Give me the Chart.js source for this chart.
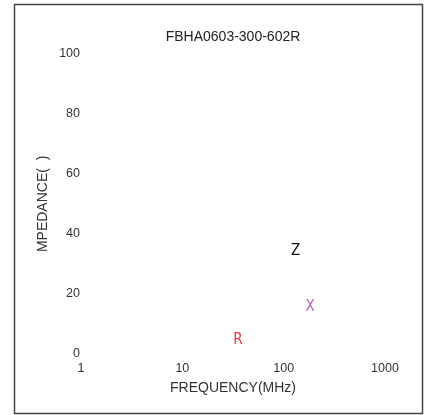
<!DOCTYPE html>
<html>
<head>
<meta charset="utf-8">
<script src="https://cdn.jsdelivr.net/npm/chart.js@4/dist/chart.umd.min.js"></script>
<style>
html,body{margin:0;padding:0;background:#fff;}
#wrap{position:relative;width:425px;height:415px;}
</style>
</head>
<body>
<div id="wrap"><canvas id="c" width="425" height="415"></canvas></div>
<script>
const chartTitle = 'FBHA0603-300-602R';
const xTitle = 'FREQUENCY(MHz)';
const yTitle = 'MPEDANCE(  )';
const xTicks = [1, 10, 100, 1000];
const yTicks = [0, 20, 40, 60, 80, 100];
const curveNames = ['Z', 'X', 'R'];
const labelFreq = [131, 182, 35.4];
const labelImp = [34.2, 15.6, 4.7];
const curveColors = ['#111111', '#b860b8', '#e83a3a'];

const datasets = curveNames.map((n, i) => ({
  label: n,
  data: [{x: labelFreq[i], y: labelImp[i]}],
  pointRadius: 0,
  showLine: false,
  color: curveColors[i]
}));

const textPlugin = {
  id: 'curveLabels',
  afterDatasetsDraw(chart) {
    const ctx = chart.ctx;
    ctx.save();
    ctx.font = '15px "Liberation Sans Narrow", "DejaVu Sans Condensed", sans-serif';
    ctx.textAlign = 'center';
    ctx.textBaseline = 'middle';
    chart.data.datasets.forEach((ds, i) => {
      const meta = chart.getDatasetMeta(i);
      meta.data.forEach(pt => {
        ctx.fillStyle = ds.color;
        ctx.fillText(ds.label, pt.x, pt.y);
      });
    });
    ctx.restore();
  }
};

const borderPlugin = {
  id: 'frame',
  afterDraw(chart) {
    const ctx = chart.ctx;
    ctx.save();
    ctx.strokeStyle = '#444';
    ctx.lineWidth = 1.5;
    ctx.strokeRect(14.5, 4.5, 408, 409);
    ctx.restore();
  }
};

new Chart(document.getElementById('c'), {
  type: 'scatter',
  data: { datasets },
  options: {
    responsive: false,
    animation: false,
    layout: { padding: { left: 30, right: 40, top: 22, bottom: 14 } },
    plugins: {
      legend: { display: false },
      tooltip: { enabled: false },
      title: {
        display: true,
        fullSize: false,
        text: chartTitle,
        color: '#222',
        font: { family: '"Liberation Sans", Arial, sans-serif', size: 14, weight: 'normal' },
        padding: { top: 7, bottom: 8 }
      }
    },
    scales: {
      x: {
        type: 'logarithmic',
        min: 1, max: 1000,
        border: { display: false },
        grid: { display: false, drawTicks: false },
        afterBuildTicks(scale) { scale.ticks = xTicks.map(v => ({ value: v })); },
        afterFit(scale) { scale.height = 47; },
        ticks: {
          color: '#333',
          padding: 7,
          maxRotation: 0,
          font: { family: '"Liberation Sans", Arial, sans-serif', size: 12.5 },
          callback: v => String(v)
        },
        title: {
          display: true, text: xTitle, color: '#333',
          font: { family: '"Liberation Sans", Arial, sans-serif', size: 14 },
          padding: { top: 0, bottom: 4.6 }
        }
      },
      y: {
        min: 0, max: 100,
        border: { display: false },
        grid: { display: false, drawTicks: false },
        afterBuildTicks(scale) { scale.ticks = yTicks.map(v => ({ value: v })); },
        afterFit(scale) { scale.width = 51; },
        ticks: {
          color: '#333',
          padding: 1,
          font: { family: '"Liberation Sans", Arial, sans-serif', size: 12.5 }
        },
        title: {
          display: true, text: yTitle, color: '#333',
          font: { family: '"Liberation Sans", Arial, sans-serif', size: 14 },
          padding: { top: 5, bottom: 0 }
        }
      }
    }
  },
  plugins: [textPlugin, borderPlugin]
});
</script>
</body>
</html>
